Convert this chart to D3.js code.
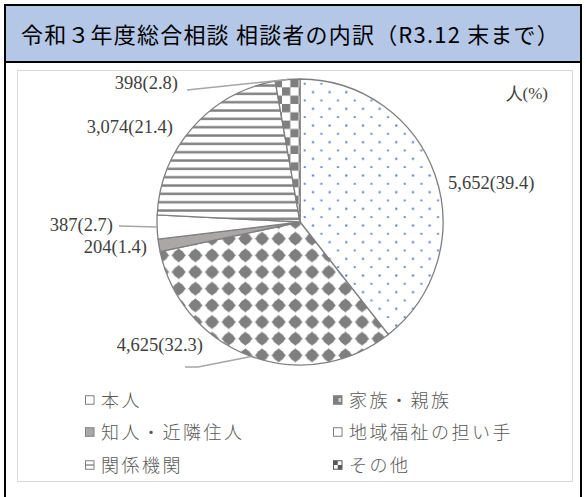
<!DOCTYPE html>
<html><head><meta charset="utf-8">
<script src="https://cdn.jsdelivr.net/npm/d3@7"></script>
<style>
html,body{margin:0;padding:0;background:#fff;}
svg{display:block;}
</style>
</head><body>
<script>
const categories = ["本人","家族・親族","知人・近隣住人","地域福祉の担い手","関係機関","その他"];
const counts = [5652,4625,204,387,3074,398];
const percents = [39.4,32.3,1.4,2.7,21.4,2.8];
const patternIds = ["pDots","pDiam","pSolid","pWhite","pLines","pCheck"];
const titleText = "令和３年度総合相談 相談者の内訳（R3.12 末まで）";
const unitText = "人(%)";

const W=586,H=497;
const svg=d3.select("body").append("svg").attr("width",W).attr("height",H);
const defs=svg.append("defs");
const T=50/3;
// dots
let p=defs.append("pattern").attr("id","pDots").attr("patternUnits","userSpaceOnUse").attr("width",T).attr("height",T);
p.append("rect").attr("width",T).attr("height",T).attr("fill","#fff");
p.append("rect").attr("x",12).attr("y",2.5).attr("width",2).attr("height",2).attr("fill","#4472c4");
p.append("rect").attr("x",3.7).attr("y",11).attr("width",2).attr("height",1.6).attr("fill","#4472c4");
// diamonds
p=defs.append("pattern").attr("id","pDiam").attr("patternUnits","userSpaceOnUse").attr("width",T).attr("height",T).attr("x",3.7).attr("y",-8.3);
p.append("rect").attr("width",T).attr("height",T).attr("fill","#fff");
const c=T/2;
p.append("path").attr("d",`M${c},${c-7.2}L${c+7.2},${c}L${c},${c+7.2}L${c-7.2},${c}Z`).attr("fill","#7f7f7f");
p.append("circle").attr("cx",c).attr("cy",c).attr("r",5.6).attr("fill","#7f7f7f");
// solid
p=defs.append("pattern").attr("id","pSolid").attr("patternUnits","userSpaceOnUse").attr("width",T).attr("height",T);
p.append("rect").attr("width",T).attr("height",T).attr("fill","#aba7a7");
p=defs.append("pattern").attr("id","pWhite").attr("patternUnits","userSpaceOnUse").attr("width",T).attr("height",T);
p.append("rect").attr("width",T).attr("height",T).attr("fill","#fff");
// lines
p=defs.append("pattern").attr("id","pLines").attr("patternUnits","userSpaceOnUse").attr("width",T).attr("height",T/2);
p.append("rect").attr("width",T).attr("height",T/2).attr("fill","#fff");
p.append("rect").attr("x",0).attr("y",4).attr("width",T).attr("height",2.4).attr("fill","#7f7f7f");
// checker
p=defs.append("pattern").attr("id","pCheck").attr("patternUnits","userSpaceOnUse").attr("width",T).attr("height",T).attr("x",15.3).attr("y",15.3);
p.append("rect").attr("width",T).attr("height",T).attr("fill","#fff");
p.append("rect").attr("x",0).attr("y",0).attr("width",T/2).attr("height",T/2).attr("fill","#7f7f7f");
p.append("rect").attr("x",T/2).attr("y",T/2).attr("width",T/2).attr("height",T/2).attr("fill","#7f7f7f");

// frame
svg.append("rect").attr("x",0).attr("y",0).attr("width",W).attr("height",H).attr("fill","#fff");
svg.append("rect").attr("x",5).attr("y",5).attr("width",576).attr("height",57).attr("fill","#b4c7e7");
svg.append("line").attr("x1",5).attr("x2",581).attr("y1",62).attr("y2",62).attr("stroke","#000").attr("stroke-width",2);
svg.append("rect").attr("x",5).attr("y",5).attr("width",576).attr("height",497).attr("fill","none").attr("stroke","#000").attr("stroke-width",2);
svg.append("text").attr("x",21).attr("y",43).text(titleText)
  .attr("font-family","'Noto Sans CJK JP', sans-serif").attr("font-size",22).attr("letter-spacing",1.2).attr("fill","#000");
// chart area
svg.append("rect").attr("x",17.5).attr("y",70.5).attr("width",555).attr("height",411).attr("fill","#fff").attr("stroke","#d9d9d9").attr("stroke-width",1);

const cx=300,cy=222,R=143;
const pie=d3.pie().sort(null).value(d=>d);
const arcs=pie(counts);
const arc=d3.arc().innerRadius(0).outerRadius(R);
const g=svg.append("g").attr("transform",`translate(${cx},${cy})`);
g.selectAll("path.s").data(arcs).join("path").attr("class","s")
  .attr("d",arc).attr("fill",(d,i)=>`url(#${patternIds[i]})`)
  .attr("stroke","#7f7f7f").attr("stroke-width",1.3);

// labels
const fmt=d3.format(",");
const labelFont="'Liberation Serif', serif";
const labelPos=[
  {x:448,y:189,anchor:"start",leader:false},
  {x:203,y:351,anchor:"end",leader:[[185,367],[198,367]]},
  {x:147,y:253,anchor:"end",leader:false},
  {x:113,y:231,anchor:"end",leader:[[119,226]]},
  {x:173,y:133,anchor:"end",leader:false},
  {x:178,y:89,anchor:"end",leader:[[187,90]]}
];
const outer=d3.arc().innerRadius(R).outerRadius(R);
arcs.forEach((a,i)=>{
  const lp=labelPos[i];
  if(lp.leader){
    const [px,py]=outer.centroid(a);
    const pts=lp.leader.concat([[px+cx,py+cy]]);
    svg.append("path").attr("d",d3.line()(pts)).attr("fill","none").attr("stroke","#a6a6a6").attr("stroke-width",1.5);
  }
  svg.append("text").attr("x",lp.x).attr("y",lp.y).attr("text-anchor",lp.anchor)
    .attr("font-family",labelFont).attr("font-size",18.5).attr("fill","#404040")
    .text(`${fmt(counts[i])}(${percents[i]})`);
});
svg.append("text").attr("x",548).attr("y",99).attr("text-anchor","end")
  .attr("font-family",labelFont).attr("font-size",17).attr("fill","#404040").text(unitText);

// legend
const legX=[85,333], legY=[400,432,465];
categories.forEach((name,i)=>{
  const col=i%2,row=Math.floor(i/2);
  const x=legX[col],y=legY[row];
  const lg=svg.append("g").attr("transform",`translate(${x},${y})`);
  const s=8.5;
  if(i===0||i===3){
    lg.append("rect").attr("x",0.5).attr("y",-s/2).attr("width",s).attr("height",s).attr("fill","#fff").attr("stroke","#7f7f7f").attr("stroke-width",1);
  } else if(i===1){
    lg.append("rect").attr("x",0.5).attr("y",-s/2).attr("width",s).attr("height",s).attr("fill","#7f7f7f").attr("stroke","#7f7f7f");
    lg.append("rect").attr("x",5.5).attr("y",-2).attr("width",2.5).attr("height",4).attr("fill","#d0d0d0");
  } else if(i===2){
    lg.append("rect").attr("x",0.5).attr("y",-s/2).attr("width",s).attr("height",s).attr("fill","#aba7a7").attr("stroke","#7f7f7f");
  } else if(i===4){
    lg.append("rect").attr("x",0.5).attr("y",-s/2).attr("width",s).attr("height",s).attr("fill","#fff").attr("stroke","#7f7f7f");
    lg.append("line").attr("x1",0.5).attr("x2",0.5+s).attr("y1",0).attr("y2",0).attr("stroke","#7f7f7f").attr("stroke-width",1.3);
  } else {
    lg.append("rect").attr("x",0.5).attr("y",-s/2).attr("width",s).attr("height",s).attr("fill","#fff").attr("stroke","#595959");
    lg.append("rect").attr("x",0.5).attr("y",-s/2).attr("width",s/2).attr("height",s/2).attr("fill","#595959");
    lg.append("rect").attr("x",0.5+s/2).attr("y",0).attr("width",s/2).attr("height",s/2).attr("fill","#595959");
  }
  lg.append("text").attr("x",16).attr("y",7).text(name)
    .attr("font-family","'Noto Sans CJK JP', sans-serif").attr("font-weight",300)
    .attr("font-size",18).attr("letter-spacing",2.5).attr("fill","#595959");
});
</script>
</body></html>
